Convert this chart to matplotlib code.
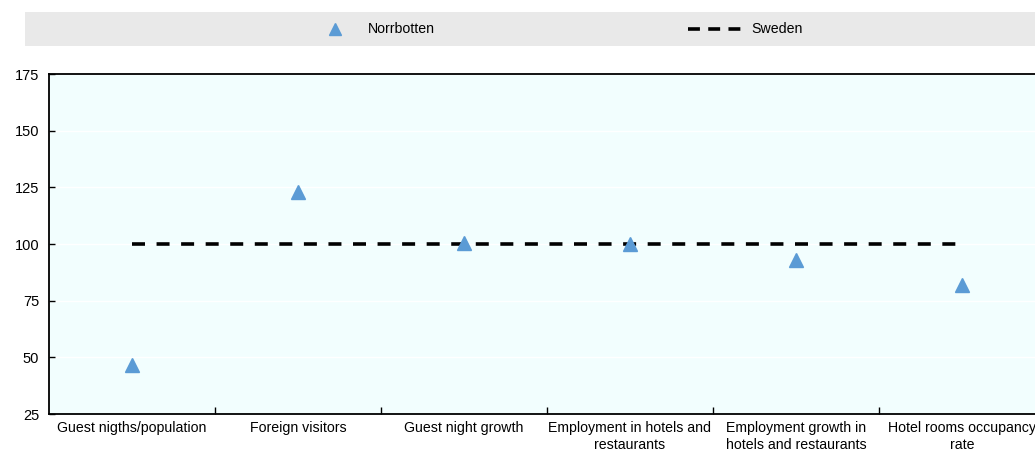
import numpy as np
import matplotlib.pyplot as plt
from matplotlib.patches import Rectangle
from matplotlib.lines import Line2D

plt.rcParams['font.family'] = ['Liberation Sans', 'DejaVu Sans']

# --- data ---
categories = ["Guest nigths/population", "Foreign visitors", "Guest night growth",
              "Employment in hotels and\nrestaurants", "Employment growth in\nhotels and restaurants",
              "Hotel rooms occupancy\nrate"]
norrbotten = [46.5, 123, 100.5, 100, 93, 82]
sweden = [100, 100, 100, 100, 100, 100]
yticks = [25, 50, 75, 100, 125, 150, 175]

fig = plt.figure(figsize=(10.35, 4.55), dpi=100)
ax = fig.add_axes([49/1035, 1 - 414/455, 996/1035, 340/455])
ax.set_facecolor("#f2fefe")

x = np.arange(len(categories))
ax.plot(x, sweden, color="black", linestyle=(0, (3.6, 3.2)), linewidth=2.6, zorder=2)
ax.plot(x, norrbotten, linestyle="none", marker="^", markersize=10,
        color="#5b9bd5", zorder=3)

ax.set_xlim(-0.5, len(categories) - 0.5)
ax.set_ylim(25, 175)
ax.set_yticks(yticks)
ax.yaxis.grid(True, color="white", linewidth=1)
ax.set_axisbelow(True)
ax.set_xticks(x)
ax.set_xticklabels(categories, fontsize=10.2, linespacing=1.25)
ax.tick_params(axis="x", length=0, pad=5)
ax.set_xticks(np.arange(0.5, len(categories) - 0.5), minor=True)
ax.tick_params(axis="x", which="minor", direction="in", length=5, width=1)
ax.tick_params(axis="y", direction="in", length=4, width=1, labelsize=10.5, pad=7)
for s in ax.spines.values():
    s.set_linewidth(1.3)
ax.spines["right"].set_visible(False)

# --- legend band ---
fig.patches.append(Rectangle((25/1035, 1 - 46/455), 1.0, 34/455, transform=fig.transFigure,
                             facecolor="#e9e9e9", edgecolor="none", zorder=0))
ly = 1 - 29/455
fig.add_artist(Line2D([335/1035], [ly], marker="^", markersize=8, color="#5b9bd5",
                      linestyle="none", transform=fig.transFigure))
fig.text(368/1035, ly, "Norrbotten", va="center", ha="left", fontsize=10.2)
fig.add_artist(Line2D([688/1035, 741/1035], [ly, ly], color="black", linewidth=2.6,
                      linestyle=(0, (3.3, 2.3)), transform=fig.transFigure))
fig.text(751/1035, ly, "Sweden", va="center", ha="left", fontsize=10.2)

fig.savefig("out.png", dpi=100)
